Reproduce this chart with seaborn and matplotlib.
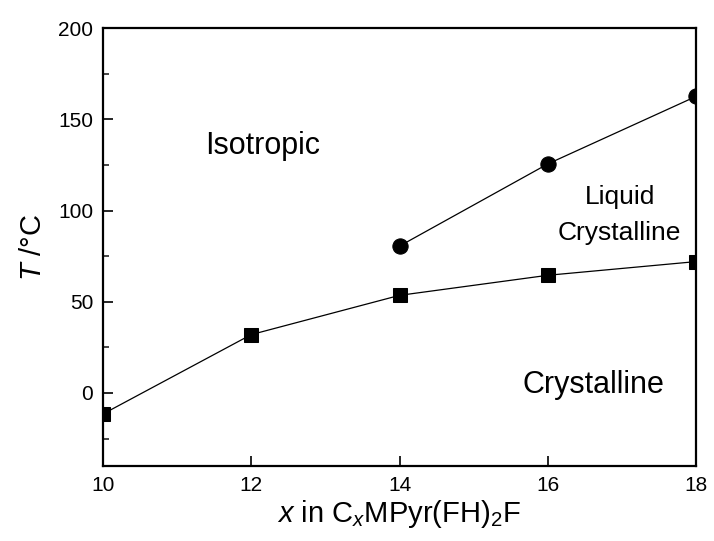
import matplotlib
matplotlib.use("Agg")
import matplotlib.pyplot as plt
import seaborn as sns
import pandas as pd
from matplotlib.ticker import MultipleLocator

# data
x_cr = [10, 12, 14, 16, 18]
t_cr = [-11.5, 32, 53.5, 64.5, 72]
x_lc = [14, 16, 18]
t_lc = [80.5, 125.5, 162.5]
x_ticks = [10, 12, 14, 16, 18]
y_ticks = [0, 50, 100, 150, 200]

sns.set_style("ticks")
plt.rcParams['font.family'] = ['Liberation Sans', 'DejaVu Sans']
plt.rcParams['mathtext.fontset'] = 'custom'
plt.rcParams['mathtext.rm'] = 'Liberation Sans'
plt.rcParams['mathtext.it'] = 'Liberation Sans:italic'
plt.rcParams['text.color'] = 'black'
plt.rcParams['axes.labelcolor'] = 'black'

fig = plt.figure(figsize=(7.14, 5.41), dpi=100)
ax = fig.add_axes([103/714, 75/541, 593/714, 438/541])

df_cr = pd.DataFrame({"x": x_cr, "T": t_cr})
df_lc = pd.DataFrame({"x": x_lc, "T": t_lc})

sns.lineplot(data=df_cr, x="x", y="T", ax=ax, color="black", lw=0.9,
             marker="s", markersize=9.5, markeredgecolor="black", markerfacecolor="black")
sns.lineplot(data=df_lc, x="x", y="T", ax=ax, color="black", lw=0.9,
             marker="o", markersize=11, markeredgecolor="black", markerfacecolor="black")

ax.set_xlim(10, 18)
ax.set_ylim(-40, 200)
ax.set_xticks(x_ticks)
ax.set_yticks(y_ticks)
ax.yaxis.set_minor_locator(MultipleLocator(25))
ax.tick_params(axis='both', which='major', direction='in', length=7, width=1.2,
               labelsize=15, colors='black', pad=7)
ax.tick_params(axis='y', which='minor', direction='in', length=4, width=1.2)
for s in ax.spines.values():
    s.set_linewidth(1.6)
    s.set_color('black')

ax.set_xlabel("$x$ in C$_x$MPyr(FH)$_2$F", fontsize=21, labelpad=2)
ax.set_ylabel("$T$ /°C", fontsize=21, labelpad=8)

ax.text(12.16, 131, "Isotropic", fontsize=22, ha="center", va="baseline")
ax.text(16.98, 103.5, "Liquid", fontsize=19, ha="center", va="baseline")
ax.text(16.96, 84, "Crystalline", fontsize=19, ha="center", va="baseline")
ax.text(16.61, 0, "Crystalline", fontsize=22, ha="center", va="baseline")

fig.savefig("out.png", dpi=100)
